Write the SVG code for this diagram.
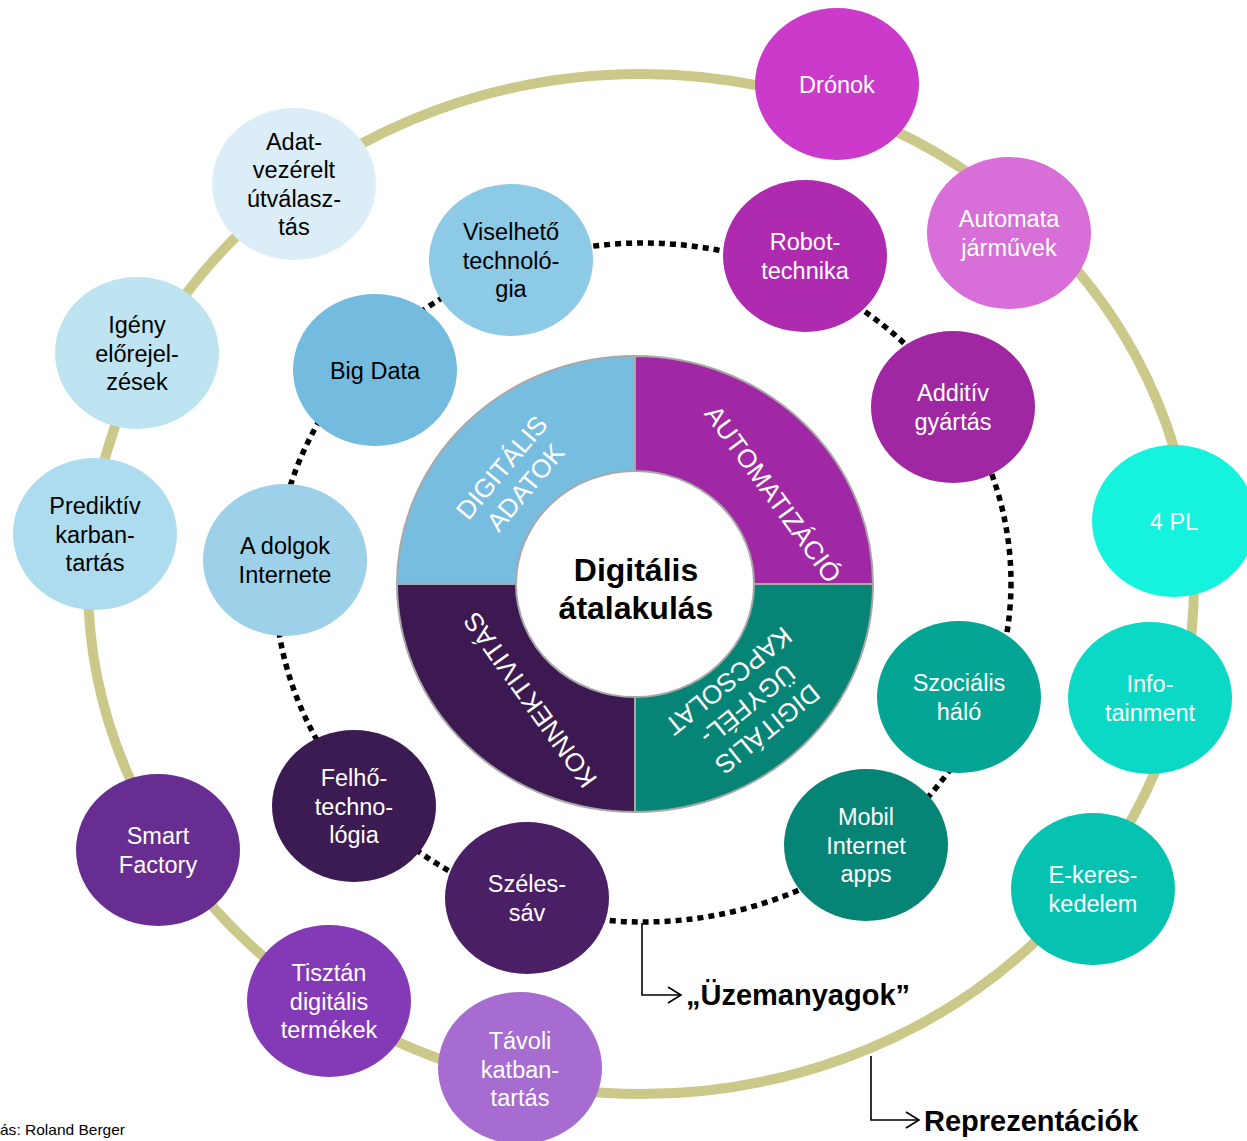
<svg xmlns="http://www.w3.org/2000/svg" width="1247" height="1141" viewBox="0 0 1247 1141">
<defs>
<style>
.node text{font-family:"Liberation Sans",Arial,sans-serif;font-size:23.5px;text-anchor:middle}
.w text{fill:#ffffff}
.b text{fill:#000000}
.ring{fill:none;stroke:#cbc98a;stroke-width:10}
.dots{fill:none;stroke:#000;stroke-width:5.5;stroke-dasharray:6 5}
.lead{fill:none;stroke:#000;stroke-width:1.6}
.quad{stroke:#a8a8a8;stroke-width:2}
.qt{font-family:"Liberation Sans",Arial,sans-serif;font-size:26px;fill:#fff;text-anchor:middle}
.big{font-family:"Liberation Sans",Arial,sans-serif;font-size:29px;font-weight:bold;fill:#000}
.title{font-family:"Liberation Sans",Arial,sans-serif;font-size:32px;font-weight:bold;fill:#000;text-anchor:middle}
</style>
<marker id="chev" markerWidth="18" markerHeight="18" refX="15" refY="9" orient="auto" markerUnits="userSpaceOnUse">
<path d="M2,1 L15,9 L2,17" fill="none" stroke="#000" stroke-width="1.6"/>
</marker>
<clipPath id="clipTR"><path d="M635,356 A238,228 0 0 1 873,584 L754,584 A119,113 0 0 0 635,471 Z"/></clipPath>
</defs>
<rect width="1247" height="1141" fill="#ffffff"/>

<g id="connectors">
<ellipse class="ring" cx="641" cy="584" rx="553" ry="510"/>
<ellipse class="dots" cx="643" cy="582.5" rx="368" ry="339.5"/>
<path class="lead" d="M642,923 V995 H681" marker-end="url(#chev)"/>
<path class="lead" d="M871,1056 V1120 H919" marker-end="url(#chev)"/>
</g>

<g id="core">
<path class="quad" fill="#77bde0" d="M397,584 A238,228 0 0 1 635,356 L635,471 A119,113 0 0 0 516,584 Z"/>
<path class="quad" fill="#a128a4" d="M635,356 A238,228 0 0 1 873,584 L754,584 A119,113 0 0 0 635,471 Z"/>
<path class="quad" fill="#068577" d="M873,584 A238,228 0 0 1 635,812 L635,697 A119,113 0 0 0 754,584 Z"/>
<path class="quad" fill="#3c1a51" d="M635,812 A238,228 0 0 1 397,584 L516,584 A119,113 0 0 0 635,697 Z"/>
<g transform="translate(513.5,477.5) rotate(-50)">
<text class="qt" x="0" y="-6.5">DIGITÁLIS</text>
<text class="qt" x="0" y="24.5">ADATOK</text>
</g>
<g clip-path="url(#clipTR)">
<text class="qt" transform="translate(773,494) rotate(54)" x="0" y="9">AUTOMATIZÁCIÓ</text>
</g>
<g transform="translate(748,705) rotate(141)">
<text class="qt" x="0" y="-22">DIGITÁLIS</text>
<text class="qt" x="0" y="9">ÜGYFÉL-</text>
<text class="qt" x="0" y="40">KAPCSOLAT</text>
</g>
<text class="qt" transform="translate(530,700) rotate(234.3)" x="0" y="9">KONNEKTIVITÁS</text>
<text class="title" x="636" y="581">Digitális</text>
<text class="title" x="636" y="619">átalakulás</text>
</g>

<g id="n-dronok" class="node w"><ellipse cx="837" cy="84" rx="82" ry="76" fill="#cb3acb"/><text x="837" y="92.5">Drónok</text></g>
<g id="n-automata" class="node w"><ellipse cx="1009" cy="233" rx="82" ry="76" fill="#d86fd8"/><text x="1009" y="227.25">Automata</text><text x="1009" y="255.75">járművek</text></g>
<g id="n-4pl" class="node w"><ellipse cx="1174" cy="521" rx="82" ry="76" fill="#15f2de"/><text x="1174" y="529.5">4 PL</text></g>
<g id="n-info" class="node w"><ellipse cx="1150" cy="698" rx="82" ry="76" fill="#0cd9c5"/><text x="1150" y="692.25">Info-</text><text x="1150" y="720.75">tainment</text></g>
<g id="n-ekeres" class="node w"><ellipse cx="1093" cy="889" rx="82" ry="76" fill="#06c3b1"/><text x="1093" y="883.25">E-keres-</text><text x="1093" y="911.75">kedelem</text></g>
<g id="n-tavoli" class="node w"><ellipse cx="520" cy="1068" rx="82" ry="76" fill="#a66ccf"/><text x="520" y="1049">Távoli</text><text x="520" y="1077.5">katban-</text><text x="520" y="1106">tartás</text></g>
<g id="n-tisztan" class="node w"><ellipse cx="329" cy="1001" rx="82" ry="76" fill="#8439b7"/><text x="329" y="981">Tisztán</text><text x="329" y="1009.5">digitális</text><text x="329" y="1038">termékek</text></g>
<g id="n-smart" class="node w"><ellipse cx="158" cy="850" rx="82" ry="76" fill="#682d91"/><text x="158" y="844.25">Smart</text><text x="158" y="872.75">Factory</text></g>
<g id="n-prediktiv" class="node b"><ellipse cx="95" cy="534" rx="82" ry="76" fill="#aedcef"/><text x="95" y="514">Prediktív</text><text x="95" y="542.5">karban-</text><text x="95" y="571">tartás</text></g>
<g id="n-igeny" class="node b"><ellipse cx="137" cy="353" rx="82" ry="76" fill="#bee3f1"/><text x="137" y="333">Igény</text><text x="137" y="361.5">előrejel-</text><text x="137" y="390">zések</text></g>
<g id="n-adat" class="node b"><ellipse cx="294" cy="184" rx="82" ry="76" fill="#dbeef8"/><text x="294" y="149.75">Adat-</text><text x="294" y="178.25">vezérelt</text><text x="294" y="206.75">útválasz-</text><text x="294" y="235.25">tás</text></g>

<g id="n-viselheto" class="node b"><ellipse cx="511" cy="260" rx="82" ry="76" fill="#8dcae6"/><text x="511" y="240">Viselhető</text><text x="511" y="268.5">technoló-</text><text x="511" y="297">gia</text></g>
<g id="n-robot" class="node w"><ellipse cx="805" cy="256" rx="82" ry="76" fill="#ae2bb0"/><text x="805" y="250.25">Robot-</text><text x="805" y="278.75">technika</text></g>
<g id="n-additiv" class="node w"><ellipse cx="953" cy="407" rx="82" ry="76" fill="#a027a2"/><text x="953" y="401.25">Additív</text><text x="953" y="429.75">gyártás</text></g>
<g id="n-bigdata" class="node b"><ellipse cx="375" cy="370" rx="82" ry="76" fill="#74bcdf"/><text x="375" y="378.5">Big Data</text></g>
<g id="n-dolgok" class="node b"><ellipse cx="285" cy="560" rx="82" ry="76" fill="#9cd1e9"/><text x="285" y="554.25">A dolgok</text><text x="285" y="582.75">Internete</text></g>
<g id="n-szocialis" class="node w"><ellipse cx="959" cy="697" rx="82" ry="76" fill="#05a595"/><text x="959" y="691.25">Szociális</text><text x="959" y="719.75">háló</text></g>
<g id="n-mobil" class="node w"><ellipse cx="866" cy="845" rx="82" ry="76" fill="#068476"/><text x="866" y="825">Mobil</text><text x="866" y="853.5">Internet</text><text x="866" y="882">apps</text></g>
<g id="n-felho" class="node w"><ellipse cx="354" cy="806" rx="82" ry="76" fill="#3c1a52"/><text x="354" y="786">Felhő-</text><text x="354" y="814.5">techno-</text><text x="354" y="843">lógia</text></g>
<g id="n-szeles" class="node w"><ellipse cx="527" cy="898" rx="82" ry="76" fill="#4a1f66"/><text x="527" y="892.25">Széles-</text><text x="527" y="920.75">sáv</text></g>

<g id="labels">
<text class="big" x="686" y="1005">„Üzemanyagok”</text>
<text class="big" x="924" y="1131">Reprezentációk</text>
<text x="0" y="1135" font-family="'Liberation Sans',Arial,sans-serif" font-size="15" fill="#000" textLength="125" lengthAdjust="spacingAndGlyphs">ás: Roland Berger</text>
</g>
</svg>
